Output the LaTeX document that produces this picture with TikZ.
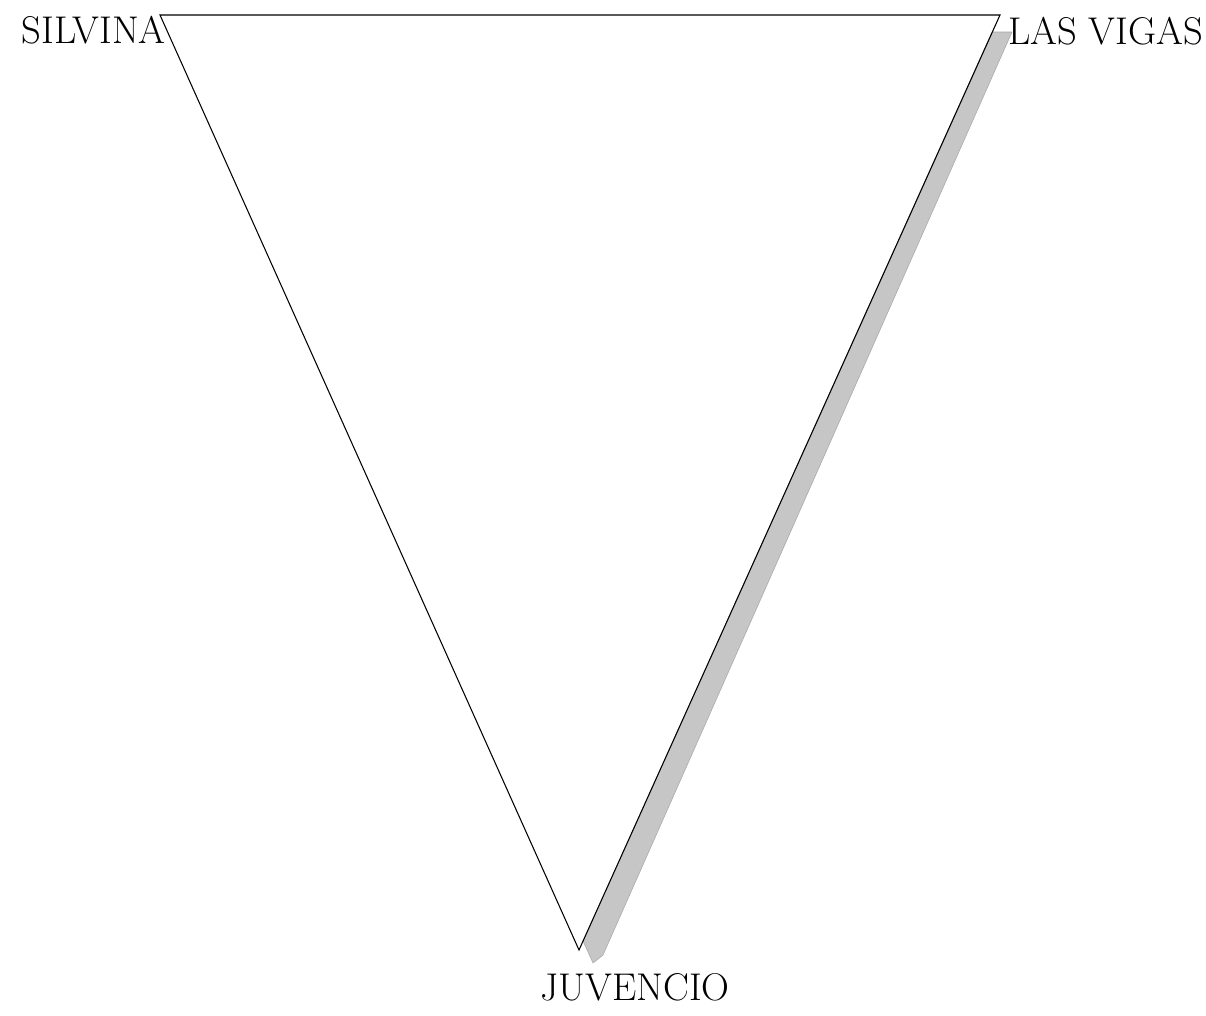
\documentclass[tikz,border=0pt]{standalone}
\usepackage{tikz}
\usetikzlibrary{positioning}

\begin{document}
\begin{tikzpicture}[
  x=0.02cm, y=-0.02cm,
  place/.style={font=\fontsize{22}{26}\selectfont, text=black, inner sep=0pt},
  edge/.style={draw=black, line width=0.6pt},
  shade/.style={fill=gray!45, draw=gray!70, line width=0.3pt},
]
\useasboundingbox (0,0) rectangle (1206,1015);

% 頂点
\coordinate (sv) at (160,15);
\coordinate (lv) at (1000,15);
\coordinate (jv) at (579,950);

% 影の帯
\fill[shade] (992,32) -- (1012,32) -- (603,955) -- (593,963) -- (583,941) -- cycle;

% 三角形
\draw[edge] (sv) -- (lv) -- (jv) -- cycle;

% ラベル
\node[place, anchor=east] (silvina) at (166,30) {SILVINA};
\node[place, anchor=west] (vigas) at (1008,31) {LAS VIGAS};
\node[place] (juvencio) at (635,987) {JUVENCIO};

\end{tikzpicture}
\end{document}
